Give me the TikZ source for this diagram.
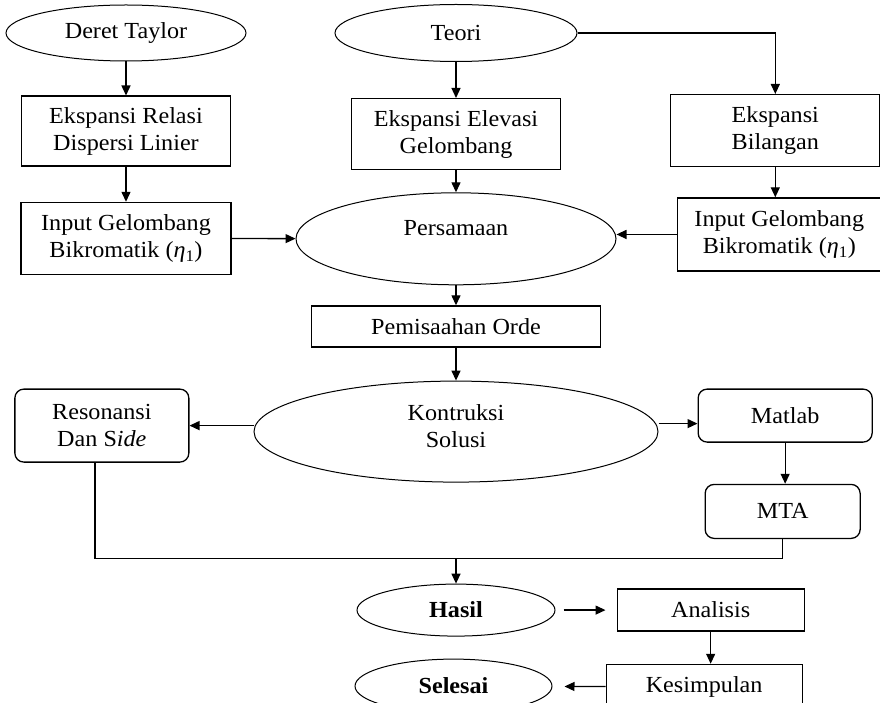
\documentclass[tikz,border=0pt]{standalone}
\usepackage{fontspec}
\setmainfont{Liberation Serif}[FakeStretch=1.05]
\usetikzlibrary{positioning, shapes.geometric, arrows.meta}

\newcommand{\etaone}{(\textit{η}\textsubscript{1})}

\begin{document}
\begin{tikzpicture}[font=\fontsize{23}{27}\selectfont, >={Triangle[length=10pt,width=9pt]}, line width=1.3pt,
    box/.style={draw, line width=1.3pt, align=center, inner sep=2pt},
    oval/.style={draw, ellipse, line width=1pt, align=center, inner sep=0pt},
    rbox/.style={draw, rounded corners=9pt, line width=1.3pt, align=center, inner sep=2pt}]
    \useasboundingbox (0,0) rectangle (880pt,-703pt);

    % left column
    \node[oval, minimum width=240pt, minimum height=56pt] (taylor) at (126pt,-33pt) {Deret Taylor};
    \node[box, below=34pt of taylor, minimum width=209pt, minimum height=70pt] (relasi) {Ekspansi Relasi\\Dispersi Linier};
    \node[box, below=35pt of relasi, minimum width=210pt, minimum height=72pt] (inputL) {Input Gelombang\\Bikromatik \etaone};

    % middle column
    \node[oval, right=88pt of taylor, minimum width=242pt, minimum height=57pt] (teori) {Teori};
    \node[box, below=36pt of teori, minimum width=209pt, minimum height=71pt] (elevasi) {Ekspansi Elevasi\\Gelombang};
    \node[oval, below=22pt of elevasi, minimum width=320pt, minimum height=92pt, text depth=22pt] (persamaan) {Persamaan};
    \node[box, below=20pt of persamaan, minimum width=289pt, minimum height=41pt] (pemisahan) {Pemisaahan Orde};
    \node[oval, below=33pt of pemisahan, minimum width=404pt, minimum height=101pt, text depth=12pt] (kontruksi) {Kontruksi\\Solusi};

    % right column
    \node[box, right=109pt of elevasi, yshift=3.5pt, minimum width=209pt, minimum height=72pt] (bilangan) {Ekspansi\\Bilangan};
    \node[box, below=30pt of bilangan, xshift=4pt, minimum width=204pt, minimum height=73pt] (inputR) {Input Gelombang\\Bikromatik \etaone};

    % solution branches
    \node[rbox, left=64pt of kontruksi, yshift=6pt, minimum width=174pt, minimum height=73pt] (resonansi) {Resonansi\\Dan S\textit{ide}};
    \node[rbox, right=39pt of kontruksi, yshift=16pt, minimum width=174pt, minimum height=53pt] (matlab) {Matlab};
    \node[rbox, below=41pt of matlab, xshift=-2.5pt, minimum width=155pt, minimum height=54pt] (mta) {MTA};

    % results
    \coordinate[below=76pt of kontruksi] (join);
    \node[oval, below=25pt of join, minimum width=198pt, minimum height=52pt] (hasil) {\textbf{Hasil}};
    \node[box, right=61pt of hasil, minimum width=187pt, minimum height=42pt] (analisis) {Analisis};
    \node[box, below=32pt of analisis, xshift=-6.5pt, minimum width=196pt, minimum height=45pt] (kesimpulan) {Kesimpulan};
    \node[oval, below=22pt of hasil, xshift=-2.5pt, minimum width=197pt, minimum height=54pt] (selesai) {\textbf{Selesai}};

    \draw[->] (taylor) -- (relasi);
    \draw[->] (relasi) -- (inputL);
    \draw[->] (inputL) -- (persamaan);
    \draw[->] (teori) -- (elevasi);
    \draw[->] (teori.east) -| (bilangan.north);
    \draw[->] (elevasi) -- (persamaan);
    \draw[->] (bilangan.south) -- (bilangan.south |- inputR.north);
    \draw[->] (inputR.west) -- (inputR.west -| persamaan.east);
    \draw[->] (persamaan) -- (pemisahan);
    \draw[->] (pemisahan) -- (kontruksi);
    \draw[->] (kontruksi.west |- resonansi) -- (resonansi);
    \draw[->] ([yshift=8pt]kontruksi.east) -- ([yshift=8pt]kontruksi.east -| matlab.west);
    \draw[->] (matlab.south) -- (matlab.south |- mta.north);
    \draw ([xshift=-7pt]resonansi.south) |- (join) -| (mta.south);
    \draw[->] (join) -- (hasil);
    \draw[->, shorten <=8pt, shorten >=11pt] (hasil) -- (analisis);
    \draw[->] (analisis.south) -- (analisis.south |- kesimpulan.north);
    \draw[->, shorten >=12pt] (kesimpulan) -- (selesai);
\end{tikzpicture}
\end{document}
